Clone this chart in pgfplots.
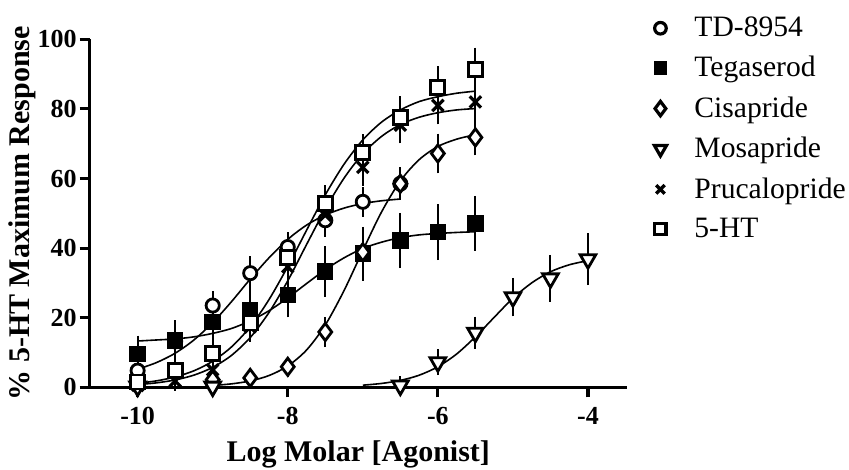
\documentclass[border=0pt]{standalone}
\usepackage{pgfplots}
\pgfplotsset{compat=1.18}
\usepackage{pgfplotstable}
\usepackage{fontspec}
\setmainfont{Liberation Serif}

\pgfplotstableread{
x y e
-10 4.8 1.5
-9.5 13.2 2
-9 23.5 2.5
-8.5 32.8 3.2
-8 40.3 2.5
-7.5 48 3
-7 53.3 2.5
-6.5 58.5 2.5
}\tdData
\pgfplotstableread{
x y e
-10 9.6 3.5
-9.5 13.5 4
-9 18.8 3.5
-8.5 22.1 4.8
-8 26.6 4.8
-7.5 33.3 5.5
-7 38.4 6
-6.5 42.2 6.2
-6 44.6 6.3
-5.5 47.1 6.2
}\tegData
\pgfplotstableread{
x y e
-9 2.2 1.5
-8.5 2.7 1
-8 5.9 1.2
-7.5 15.9 2.6
-7 38.8 5
-6.5 58.5 3
-6 67.2 4
-5.5 71.8 3.4
}\cisData
\pgfplotstableread{
x y e
-10 0.2 0.5
-9 0.2 0.5
-6.5 0.5 1
-6 7.2 2
-5.5 15.7 2.9
-5 25.9 3.8
-4.5 31.3 5
-4 36.8 5.7
}\mosData
\pgfplotstableread{
x y e
-10 0.5 1
-9.5 1.8 1
-9 5 1.5
-8.5 17.3 2.5
-8 34.6 3
-7.5 49.5 3
-7 63.2 3.5
-6.5 75.3 3.5
-6 81 3.7
-5.5 82 4
}\pruData
\pgfplotstableread{
x y e
-10 1.5 1.5
-9.5 4.9 1.5
-9 9.8 2
-8.5 18.5 2
-8 37.4 3
-7.5 52.9 3.5
-7 67.5 3.5
-6.5 77.6 4.3
-6 86.2 4.3
-5.5 91.4 4.5
}\htData

\pgfplotsset{
  dat/.style={only marks, black, forget plot,
    error bars/y dir=both, error bars/y explicit,
    error bars/error bar style={line width=1bp, black},
    error bars/error mark options={mark size=3bp, line width=1bp, black}},
  fit/.style={black, line width=0.8bp, smooth, no marks, forget plot},
}

\begin{document}
\begin{tikzpicture}
\begin{axis}[
  name=ax,
  scale only axis,
  width=268.7bp, height=174bp,
  xmin=-10.64, xmax=-3.48,
  ymin=0, ymax=100,
  clip=false,
  axis lines*=left,
  axis line style={line width=1.6bp, -},
  tick align=outside,
  major tick length=5bp,
  tick style={line width=1.6bp, black},
  xtick={-10,-8,-6,-4},
  ytick={0,20,40,60,80,100},
  /pgf/number format/assume math mode=true,
  ticklabel style={font=\fontsize{13bp}{15bp}\selectfont\bfseries},
  xticklabel style={yshift=-1.5bp},
  yticklabel style={xshift=2bp},
  xlabel={Log Molar [Agonist]},
  ylabel={\% 5-HT Maximum Response},
  label style={font=\fontsize{15bp}{18bp}\selectfont\bfseries},
  xlabel style={at={(axis description cs:0.5,-0.1925)}, anchor=center},
  ylabel style={at={(axis description cs:-0.125,0.5)}, anchor=center},
  legend image code/.code={\draw[#1] plot coordinates {(0cm,0cm)}; \path[draw=none,fill=none] (-3bp,0bp) (15bp,0bp);},
  legend style={at={(axis description cs:1.0502,1.077)}, anchor=north west,
    draw=none, fill=none, inner sep=0pt, row sep=4.45bp,
    font=\fontsize{14.8bp}{17.5bp}\selectfont, cells={anchor=west}},
]
% fitted curves
\addplot[fit] coordinates {(-10,5.2)(-9.75,7.1)(-9.5,9.8)(-9.25,13.6)(-9,18.6)(-8.75,24.6)(-8.5,31.1)(-8.25,37.2)(-8,42.5)(-7.75,46.6)(-7.5,49.5)(-7.25,51.5)(-7,52.8)(-6.75,53.6)(-6.5,54.1)};
\addplot[fit] coordinates {(-10,13.3)(-9.75,13.6)(-9.5,13.9)(-9.25,14.5)(-9,15.5)(-8.75,16.9)(-8.5,19.1)(-8.25,22.0)(-8,25.7)(-7.75,29.8)(-7.5,33.8)(-7.25,37.2)(-7,39.9)(-6.75,41.7)(-6.5,43.0)(-6.25,43.8)(-6,44.2)(-5.75,44.5)(-5.5,44.7)};
\addplot[fit] coordinates {(-9,0.53)(-8.75,0.99)(-8.5,1.83)(-8.25,3.38)(-8,6.12)(-7.75,10.7)(-7.5,17.9)(-7.25,27.8)(-7,39.3)(-6.75,50.4)(-6.5,59.3)(-6.25,65.4)(-6,69.2)(-5.75,71.3)(-5.5,72.6)};
\addplot[fit] coordinates {(-7,0.61)(-6.75,1.11)(-6.5,1.98)(-6.25,3.47)(-6,5.91)(-5.75,9.57)(-5.5,14.5)(-5.25,20.1)(-5,25.6)(-4.75,30.0)(-4.5,33.2)(-4.25,35.2)(-4,36.4)};
\addplot[fit] coordinates {(-10,0.77)(-9.75,1.28)(-9.5,2.12)(-9.25,3.5)(-9,5.73)(-8.75,9.17)(-8.5,14.3)(-8.25,21.5)(-8,30.6)(-7.75,41.0)(-7.5,51.2)(-7.25,60.1)(-7,67.1)(-6.75,72.1)(-6.5,75.5)(-6.25,77.6)(-6,78.9)(-5.75,79.7)(-5.5,80.1)};
\addplot[fit] coordinates {(-10,1.15)(-9.75,1.85)(-9.5,2.98)(-9.25,4.75)(-9,7.5)(-8.75,11.6)(-8.5,17.4)(-8.25,25.2)(-8,34.7)(-7.75,45.1)(-7.5,55.3)(-7.25,64.1)(-7,71.1)(-6.75,76.2)(-6.5,79.7)(-6.25,82.1)(-6,83.5)(-5.75,84.5)(-5.5,85.1)};
% data
\addplot[dat, mark=*, mark size=3.3bp, mark options={fill=white, line width=1.4bp}] table[x=x,y=y,y error=e] {\tdData};
\addplot[dat, mark=square*, mark size=3.5bp, mark options={fill=black, line width=1.2bp}] table[x=x,y=y,y error=e] {\tegData};
\addplot[dat, mark=diamond*, mark size=4.3bp, mark options={fill=white, line width=1.4bp}] table[x=x,y=y,y error=e] {\cisData};
\addplot[dat, mark=triangle*, mark size=4.5bp, mark options={fill=white, line width=1.4bp, rotate=180}] table[x=x,y=y,y error=e] {\mosData};
\addplot[dat, mark=x, mark size=4bp, mark options={line width=1.6bp}] table[x=x,y=y,y error=e] {\pruData};
\addplot[dat, mark=square*, mark size=3.5bp, mark options={fill=white, line width=1.4bp}] table[x=x,y=y,y error=e] {\htData};
% legend
\addlegendimage{only marks, black, mark=*, mark size=2.9bp, mark options={fill=white, line width=1.6bp}}
\addlegendentry{TD-8954}
\addlegendimage{only marks, black, mark=square*, mark size=2.8bp, mark options={fill=black, line width=1.2bp}}
\addlegendentry{Tegaserod}
\addlegendimage{only marks, black, mark=diamond*, mark size=3.6bp, mark options={fill=white, line width=1.6bp}}
\addlegendentry{Cisapride}
\addlegendimage{only marks, black, mark=triangle*, mark size=3.5bp, mark options={fill=white, line width=1.6bp, rotate=180}}
\addlegendentry{Mosapride}
\addlegendimage{only marks, black, mark=x, mark size=3bp, mark options={line width=1.7bp}}
\addlegendentry{Prucalopride}
\addlegendimage{only marks, black, mark=square*, mark size=2.8bp, mark options={fill=white, line width=1.6bp}}
\addlegendentry{5-HT}
\end{axis}
\pgfresetboundingbox
\path[use as bounding box] ([xshift=-44.8bp,yshift=-41bp]ax.south west) rectangle ([xshift=111bp,yshift=19.65bp]ax.north east);
\end{tikzpicture}
\end{document}
